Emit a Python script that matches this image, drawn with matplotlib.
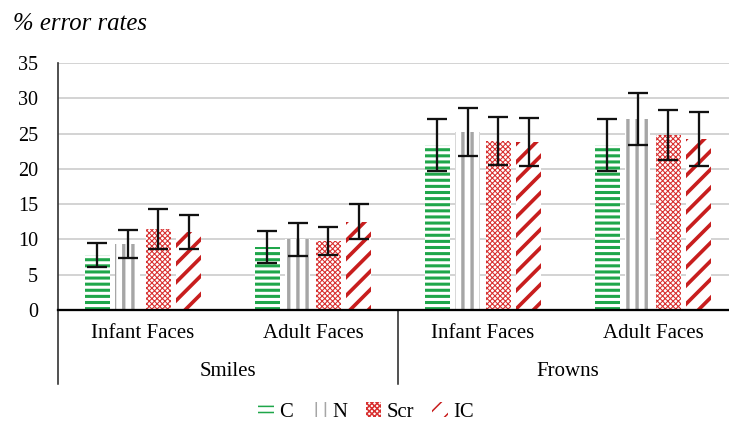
import matplotlib
matplotlib.use("Agg")
import matplotlib.pyplot as plt
import numpy as np

# data
groups = ["Smiles", "Frowns"]
categories = ["Infant Faces", "Adult Faces", "Infant Faces", "Adult Faces"]
series = ["C", "N", "Scr", "IC"]

c_vals = [7.8, 8.9, 23.4, 23.4]
n_vals = [9.35, 10.0, 25.2, 27.1]
scr_vals = [11.5, 9.8, 24.0, 24.8]
ic_vals = [11.1, 12.5, 23.8, 24.2]

c_err = [1.7, 2.3, 3.65, 3.65]
n_err = [2.0, 2.3, 3.4, 3.65]
scr_err = [2.85, 2.0, 3.4, 3.5]
ic_err = [2.4, 2.45, 3.4, 3.8]

yticks = [0, 5, 10, 15, 20, 25, 30, 35]

DPI = 110
W, H = 729, 424
plt.rcParams['font.family'] = ['Liberation Serif', 'DejaVu Serif']

fig = plt.figure(figsize=(W / DPI, H / DPI), dpi=DPI)
ax = fig.add_axes([58 / W, (H - 310) / H, 671 / W, 247 / H])

x = np.arange(len(categories))
offsets = [-0.27, -0.09, 0.09, 0.27]
width = 0.147
styles = [
    dict(color="#1fa64a", hatch="---", hlw=2.0),
    dict(color="#a6a6a6", hatch="||", hlw=2.2),
    dict(color="#d83030", hatch="xxxxxxx", hlw=0.7),
    dict(color="#c81e1e", hatch="//", hlw=2.4),
]
vals = [c_vals, n_vals, scr_vals, ic_vals]
errs = [c_err, n_err, scr_err, ic_err]

handles = []
for i in range(4):
    st = styles[i]
    bars = ax.bar(x + offsets[i], vals[i], width, facecolor="white",
                  edgecolor=st["color"], linewidth=0, hatch=st["hatch"],
                  label=series[i], zorder=2)
    for b in bars:
        try:
            b.set_hatch_linewidth(st["hlw"])
        except AttributeError:
            pass
    ax.errorbar(x + offsets[i], vals[i], yerr=errs[i], fmt="none",
                ecolor="#111111", elinewidth=1.5, capsize=6.5, capthick=1.5,
                zorder=3)
    handles.append(bars)

ax.set_ylim(0, 35)
ax.set_xlim(-0.5, -0.5 + 671 / 170)
ax.set_yticks(yticks)
ax.set_xticks([])
ax.tick_params(axis="y", length=0, pad=13, labelsize=13.2)
ax.yaxis.grid(True, color="#d4d4d4", linewidth=1.3, zorder=0)
ax.set_axisbelow(True)
for s in ["top", "right"]:
    ax.spines[s].set_visible(False)
ax.spines["left"].set_color("#333333")
ax.spines["left"].set_linewidth(1.1)
ax.spines["bottom"].set_color("black")
ax.spines["bottom"].set_linewidth(1.5)
ax.spines["bottom"].set_zorder(4)

# two-level category axis
trans = ax.get_xaxis_transform()
for i, cat in enumerate(categories):
    ax.text(x[i], -(334 - 310) / 247, cat, transform=trans, ha="center",
            va="center", fontsize=13.7)
for j, g in enumerate(groups):
    ax.text(x[2 * j] + 0.5, -(372 - 310) / 247, g, transform=trans,
            ha="center", va="center", fontsize=13.7)
for xs in [-0.5, 1.5, 3.5]:
    ax.plot([xs, xs], [0, -(384 - 310) / 247], transform=trans,
            color="#222222", linewidth=1.0, clip_on=False)

fig.text(13 / W, 1 - 30 / H, "% error rates", style="italic",
         fontsize=16.2, ha="left", va="baseline")

fig.legend(handles=handles, labels=series, loc="center",
           bbox_to_anchor=(366 / W, 1 - 412 / H), ncol=4, frameon=False,
           fontsize=13.5, handlelength=0.75, handleheight=0.75,
           handletextpad=0.25, columnspacing=0.9)

fig.savefig("out.png", dpi=DPI)
